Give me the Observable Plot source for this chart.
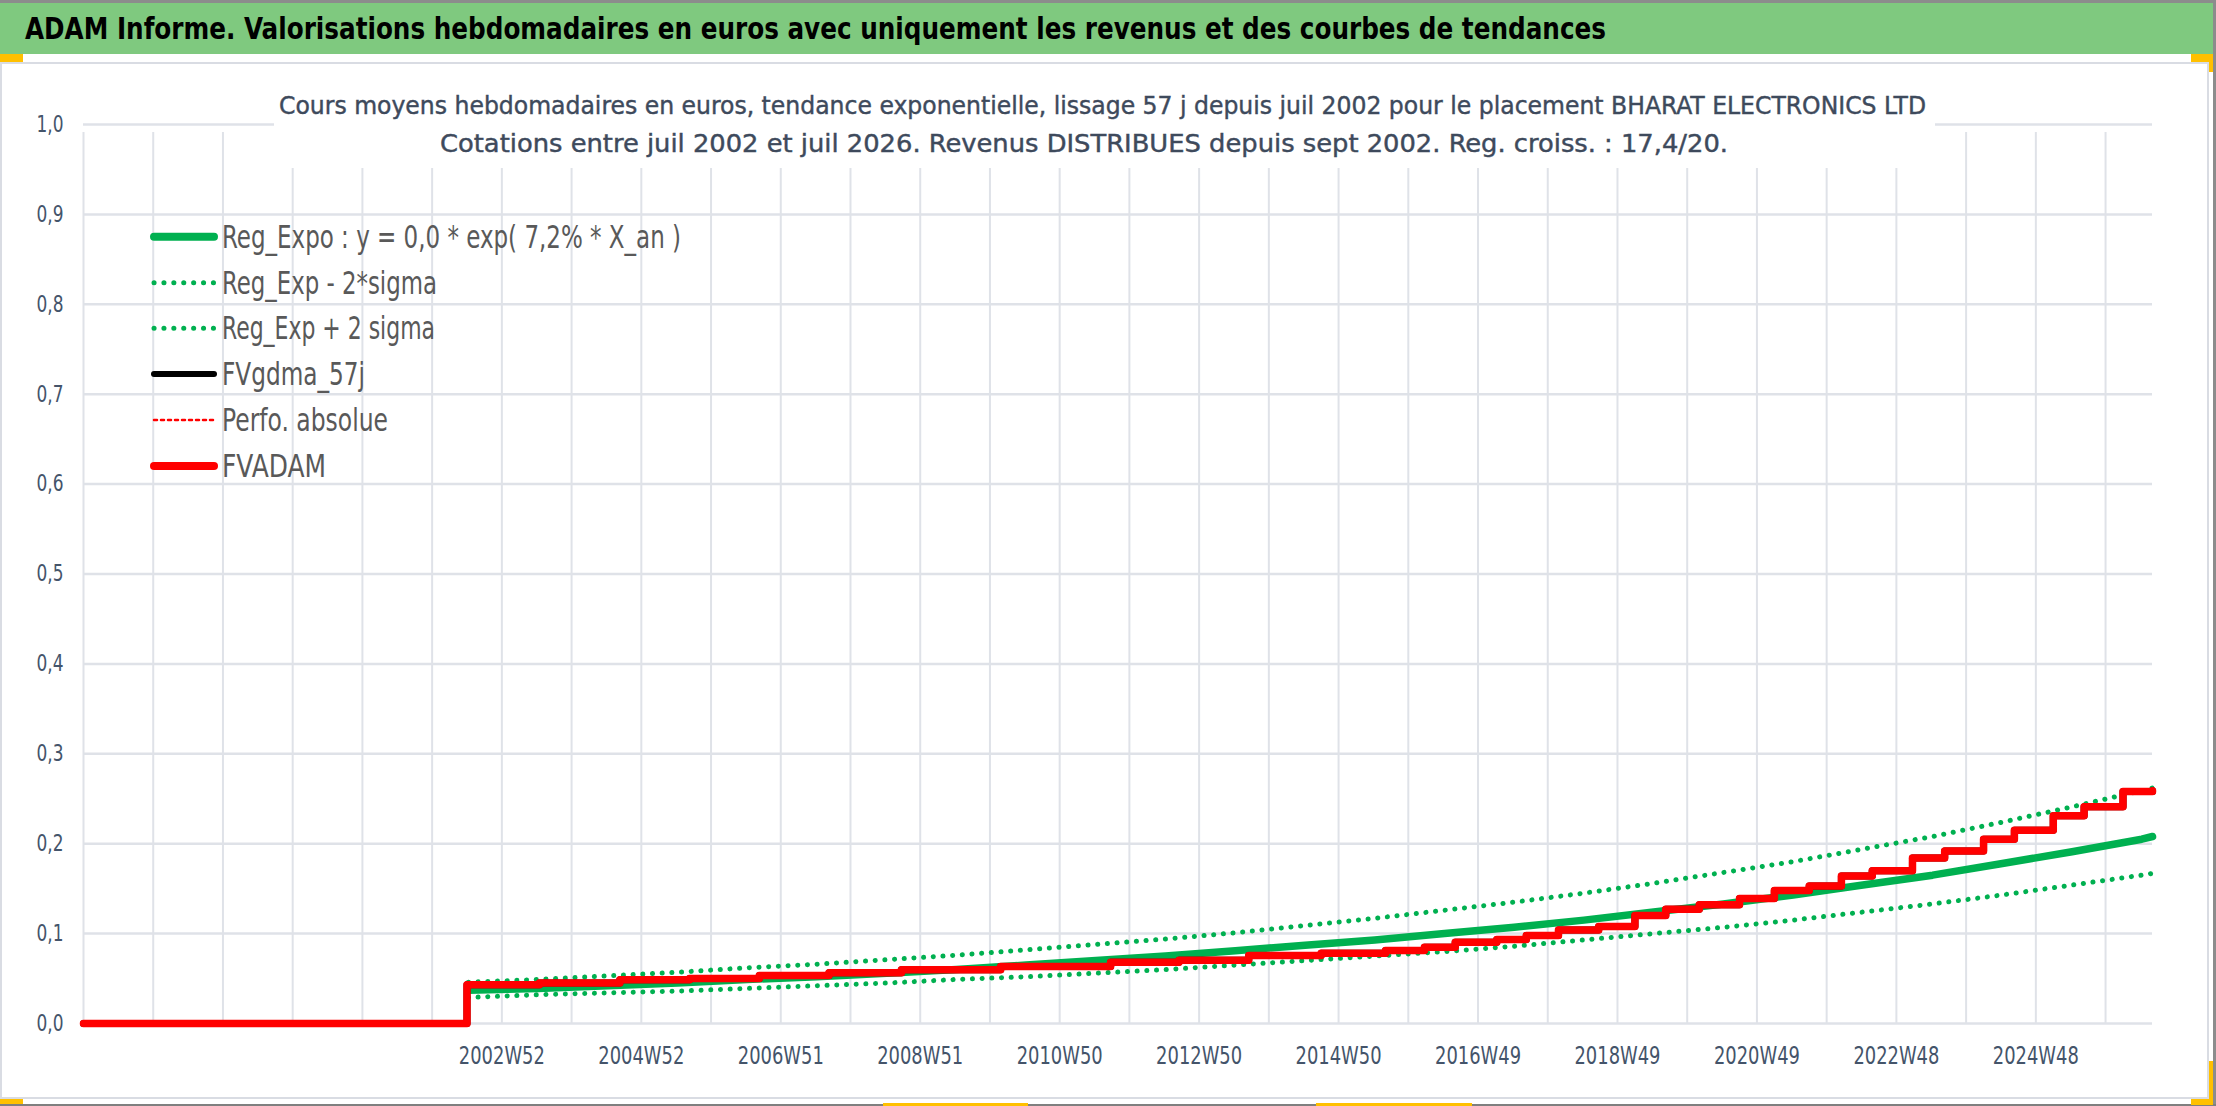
<!DOCTYPE html>
<html><head><meta charset="utf-8">
<script src="https://cdn.jsdelivr.net/npm/d3@7"></script>
<script src="https://cdn.jsdelivr.net/npm/@observablehq/plot@0.6"></script>
<style>
body{margin:0;background:#fff;}
#wrap{position:relative;width:2216px;height:1106px;overflow:hidden;background:#fff;}
#wrap svg{position:absolute;left:0;top:0;}
</style></head><body><div id="wrap"></div>
<script>
const FONT = '"Liberation Sans Narrow","DejaVu Sans Condensed","Roboto Condensed","Arial Narrow","DejaVu Sans",sans-serif';

const titleText = "ADAM Informe. Valorisations hebdomadaires en euros avec uniquement les revenus et des courbes de tendances";
const subtitle1 = "Cours moyens hebdomadaires en euros, tendance exponentielle, lissage 57 j depuis juil 2002 pour le placement BHARAT ELECTRONICS LTD";
const subtitle2 = "Cotations entre juil 2002 et juil 2026. Revenus DISTRIBUES depuis sept 2002. Reg. croiss. : 17,4/20.";

const xLabels = ["2002W52","2004W52","2006W51","2008W51","2010W50","2012W50","2014W50","2016W49","2018W49","2020W49","2022W48","2024W48"];
const xLabelWeeks = [312,416,520,624,728,832,936,1040,1144,1248,1352,1456];
const gridWeeks = [0,52,104,156,208,260,312,364,416,468,520,572,624,676,728,780,832,884,936,988,1040,1092,1144,1196,1248,1300,1352,1404,1456,1508];
const yTicks = [0,0.1,0.2,0.3,0.4,0.5,0.6,0.7,0.8,0.9,1.0];

const trendWeeks = [287,339,391,443,495,547,599,651,703,755,807,859,911,963,1015,1067,1119,1171,1223,1275,1327,1379,1431,1483,1535,1543];
const trendVals  = [0.037,0.039,0.042,0.045,0.049,0.052,0.056,0.060,0.065,0.070,0.075,0.081,0.087,0.093,0.100,0.107,0.115,0.124,0.133,0.143,0.154,0.165,0.178,0.191,0.205,0.208];
const upperVals  = [0.046,0.049,0.053,0.057,0.062,0.066,0.071,0.076,0.082,0.088,0.094,0.101,0.109,0.117,0.126,0.135,0.145,0.156,0.168,0.180,0.194,0.208,0.224,0.241,0.259,0.262];
const lowerVals  = [0.029,0.032,0.034,0.036,0.039,0.042,0.045,0.049,0.052,0.056,0.060,0.065,0.070,0.075,0.080,0.086,0.093,0.100,0.107,0.115,0.124,0.133,0.143,0.154,0.165,0.167];

const fvWeeks = [0,286,340,400,452,504,556,610,684,766,817,869,923,971,1000,1023,1054,1076,1100,1130,1157,1180,1205,1235,1261,1287,1311,1334,1364,1388,1417,1440,1469,1492,1521,1543];
const fvVals  = [0,0.043,0.045,0.0486,0.050,0.0534,0.0564,0.0597,0.0635,0.0682,0.0704,0.0756,0.0782,0.0812,0.0849,0.0905,0.0934,0.0979,0.104,0.108,0.120,0.127,0.132,0.139,0.148,0.153,0.164,0.170,0.184,0.192,0.205,0.215,0.231,0.241,0.258,0.259];

const legendLabels = ["Reg_Expo : y = 0,0 * exp( 7,2% *  X_an )","Reg_Exp - 2*sigma","Reg_Exp + 2 sigma","FVgdma_57j","Perfo. absolue","FVADAM"];

const trend = trendWeeks.map((w,i)=>({w, v:trendVals[i], up:upperVals[i], lo:lowerVals[i]}));
const fv = fvWeeks.map((w,i)=>({w, v:fvVals[i]}));

const GRID = "#dfe2e8";
const TXT = "#44546a";
const chart = Plot.plot({
  width: 2216, height: 1106,
  marginLeft: 83, marginRight: 64, marginTop: 124, marginBottom: 83,
  x: {domain:[0,1543]},
  y: {domain:[0,1]},
  style: {fontFamily: FONT, background:"transparent"},
  marks: [
    Plot.ruleY(yTicks, {stroke:GRID, strokeWidth:2.5}),
    Plot.ruleX(gridWeeks, {y1:0, y2:1, stroke:GRID, strokeWidth:2, insetBottom:-8}),
    Plot.axisY({ticks:yTicks, tickSize:0, tickPadding:20, tickFormat:d=>d.toFixed(1).replace(".",","), fontSize:23, color:TXT, label:null}),
    Plot.axisX({ticks:xLabelWeeks, tickSize:0, tickPadding:23, tickFormat:d=>xLabels[xLabelWeeks.indexOf(d)], fontSize:24, color:TXT, label:null}),
    Plot.line(trend, {x:"w", y:"v", stroke:"#00b050", strokeWidth:7.5}),
    Plot.line(trend, {x:"w", y:"lo", stroke:"#00b050", strokeWidth:5, strokeDasharray:"0.1 9.6", strokeLinecap:"round"}),
    Plot.line(trend, {x:"w", y:"up", stroke:"#00b050", strokeWidth:5, strokeDasharray:"0.1 9.6", strokeLinecap:"round"}),
    Plot.line(fv, {x:"w", y:"v", stroke:"#000000", strokeWidth:7, curve:"step-after"}),
    Plot.line(fv, {x:"w", y:"v", stroke:"#ff0000", strokeWidth:2.5, strokeDasharray:"2 4", curve:"step-after"}),
    Plot.line(fv, {x:"w", y:"v", stroke:"#ff0000", strokeWidth:7.5, curve:"step-after"})
  ]
});
d3.select(chart).selectAll('g[aria-label="x-axis tick label"] text').attr("textLength",86).attr("lengthAdjust","spacingAndGlyphs");
d3.select(chart).selectAll('g[aria-label="y-axis tick label"] text').attr("textLength",27).attr("lengthAdjust","spacingAndGlyphs");
const wrap = document.getElementById("wrap");
wrap.appendChild(chart);

// overlay: frame, title, subtitle, legend
const ov = d3.create("svg").attr("width",2216).attr("height",1106).style("pointer-events","none");
ov.append("rect").attr("x",0).attr("y",0).attr("width",2216).attr("height",3).attr("fill","#8c8c8c");
ov.append("rect").attr("x",0).attr("y",3).attr("width",2213).attr("height",51).attr("fill","#7fc97f");
ov.append("rect").attr("x",2213).attr("y",0).attr("width",3).attr("height",1106).attr("fill","#8c8c8c");
ov.append("rect").attr("x",0).attr("y",1104).attr("width",2216).attr("height",2).attr("fill","#7f7f7f");
ov.append("rect").attr("x",1).attr("y",63).attr("width",2207).attr("height",1035).attr("fill","none").attr("stroke","#d9dce3").attr("stroke-width",2);
const Y = "#ffc000";
[[0,54,23,8],[2191,54,22,8],[2209,54,4,18],[2209,1061,4,43],[2191,1099,22,6],[0,1099,23,5],[883,1103,145,3],[1316,1103,156,3]]
  .forEach(([x,y,w,h])=>ov.append("rect").attr("x",x).attr("y",y).attr("width",w).attr("height",h).attr("fill",Y));

ov.append("text").attr("x",25).attr("y",39).attr("textLength",1581).attr("lengthAdjust","spacingAndGlyphs")
  .attr("font-family",FONT).attr("font-size",30).attr("font-weight","bold").attr("fill","#000").text(titleText);

ov.append("rect").attr("x",274).attr("y",82).attr("width",1661).attr("height",86).attr("fill","#fff");
ov.append("text").attr("x",279).attr("y",114).attr("textLength",1647).attr("lengthAdjust","spacingAndGlyphs")
  .attr("font-family",FONT).attr("font-size",25).attr("fill","#3e4a5c").attr("stroke","#3e4a5c").attr("stroke-width",0.4).text(subtitle1);
ov.append("text").attr("x",440).attr("y",152).attr("textLength",1288).attr("lengthAdjust","spacingAndGlyphs")
  .attr("font-family",FONT).attr("font-size",25).attr("fill","#3e4a5c").attr("stroke","#3e4a5c").attr("stroke-width",0.4).text(subtitle2);

const legY = [236.7,282.7,328.3,374,420,466];
const legLen = [459,215,213,143,166,104];
const legStyle = [
  {c:"#00b050",w:8,d:null},
  {c:"#00b050",w:5,d:"0.1 9.8",cap:"round"},
  {c:"#00b050",w:5,d:"0.1 9.8",cap:"round"},
  {c:"#000000",w:6,d:null},
  {c:"#ff0000",w:2.5,d:"3 4"},
  {c:"#ff0000",w:8,d:null}
];
legendLabels.forEach((lab,i)=>{
  const s = legStyle[i];
  const ln = ov.append("line").attr("x1",154).attr("x2",214).attr("y1",legY[i]).attr("y2",legY[i])
    .attr("stroke",s.c).attr("stroke-width",s.w).attr("stroke-linecap",s.cap||"round");
  if (s.d) ln.attr("stroke-dasharray",s.d);
  ov.append("text").attr("x",222).attr("y",legY[i]+11).attr("textLength",legLen[i]).attr("lengthAdjust","spacingAndGlyphs")
    .attr("font-family",FONT).attr("font-size",32).attr("fill","#595959").text(lab);
});
wrap.appendChild(ov.node());
</script></body></html>
